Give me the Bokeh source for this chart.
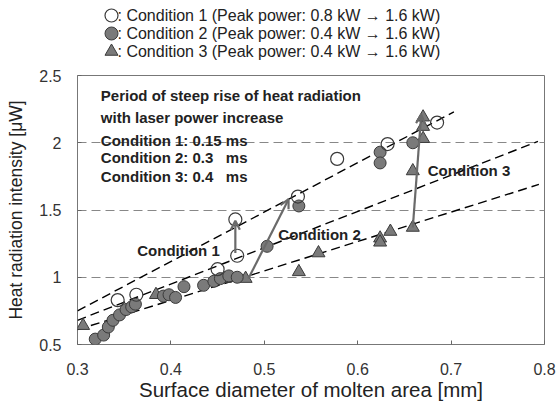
from bokeh.plotting import figure
from bokeh.layouts import column
from bokeh.models import (Range1d, FixedTicker, CustomJSTickFormatter, Arrow, OpenHead)
from bokeh.core.properties import value
from bokeh.embed import file_html
from bokeh.resources import INLINE

# ---------------- data ----------------
c1_x = [0.343, 0.363, 0.450, 0.471, 0.469, 0.536, 0.578, 0.632, 0.685]
c1_y = [0.83, 0.87, 1.06, 1.16, 1.43, 1.60, 1.88, 1.99, 2.15]

c2_x = [0.319, 0.328, 0.333, 0.338, 0.345, 0.352, 0.358, 0.362, 0.392, 0.398, 0.405,
        0.414, 0.435, 0.446, 0.453, 0.462, 0.471, 0.503, 0.537, 0.624, 0.624, 0.659]
c2_y = [0.54, 0.57, 0.63, 0.68, 0.72, 0.76, 0.78, 0.80, 0.86, 0.87, 0.85,
        0.93, 0.94, 0.97, 0.99, 1.01, 1.00, 1.23, 1.53, 1.93, 1.85, 2.00]

c3_x = [0.306, 0.384, 0.458, 0.480, 0.537, 0.558, 0.624, 0.624, 0.635, 0.659, 0.659,
        0.670, 0.670, 0.670]
c3_y = [0.64, 0.87, 0.99, 0.99, 1.04, 1.18, 1.29, 1.26, 1.34, 1.37, 1.79,
        2.03, 2.12, 2.19]

# dashed trend lines (start, end)
fit1_x = [0.300, 0.703]
fit1_y = [0.75, 2.23]
fit2_x = [0.300, 0.793]
fit2_y = [0.68, 2.01]
fit3_x = [0.300, 0.794]
fit3_y = [0.61, 1.69]

# arrows (x0, y0, x1, y1)
arrow1 = (0.469, 1.18, 0.469, 1.42)
arrow2 = (0.483, 0.99, 0.526, 1.58)
arrow3 = (0.659, 1.37, 0.668, 2.21)

cond_labels = ["Condition 1", "Condition 2", "Condition 3"]
cond_label_x = [0.364, 0.515, 0.675]
cond_label_y = [1.20, 1.32, 1.79]

note_lines = ["Period of steep rise of heat radiation",
              "with laser power increase",
              "Condition 1: 0.15 ms",
              "Condition 2: 0.3\u00a0\u00a0\u00a0ms",
              "Condition 3: 0.4\u00a0\u00a0\u00a0ms"]
note_x = [0.325, 0.325, 0.325, 0.325, 0.325]
note_y = [2.35, 2.19, 2.02, 1.89, 1.75]

legend_texts = [": Condition 1 (Peak power: 0.8 kW  \u2192 1.6 kW)",
                ": Condition 2 (Peak power: 0.4 kW  \u2192 1.6 kW)",
                ": Condition 3 (Peak power: 0.4 kW  \u2192 1.6 kW)"]

x_ticks = [0.3, 0.4, 0.5, 0.6, 0.7, 0.8]
y_ticks = [0.5, 1.0, 1.5, 2.0, 2.5]

FONT = "Liberation Sans"
GRAY = "#7a7a7a"
EDGE = "#3a3a3a"

W = 559
TOP_H = 63
FL, FR = 77, 544   # plot frame left/right in page pixels

# ---------------- legend figure ----------------
# column layouts align frames, so the legend frame spans FL..FR too
leg = figure(width=W, height=TOP_H, x_range=Range1d(FL, FR), y_range=Range1d(TOP_H, 0),
             output_backend="svg", toolbar_location=None,
             x_axis_location=None, y_axis_location=None,
             min_border_left=FL, min_border_right=W - FR, min_border_top=0,
             min_border_bottom=0)
leg.grid.visible = False
leg.outline_line_color = None
ly = [15, 33, 51]
lx = 111
leg.scatter([lx], [ly[0]], marker="circle", size=13, fill_color="white",
            line_color=EDGE, line_width=1.2)
leg.scatter([lx], [ly[1]], marker="circle", size=13, fill_color=GRAY,
            line_color=EDGE, line_width=1)
leg.scatter([lx], [ly[2]], marker="triangle", size=13, fill_color=GRAY,
            line_color=EDGE, line_width=1)
leg.text(x=[lx + 6] * 3, y=ly, text=legend_texts, text_font=value(FONT),
         text_font_size="16px", text_color="#222", text_baseline="middle",
         text_align="left")

# ---------------- main figure ----------------
p = figure(width=W, height=403 - TOP_H, x_range=Range1d(0.3, 0.8), y_range=Range1d(0.5, 2.5),
           output_backend="svg", toolbar_location=None,
           min_border_left=FL, min_border_right=W - FR, min_border_top=12,
           min_border_bottom=56)
p.outline_line_color = "#777"
p.outline_line_width = 1
p.background_fill_color = "white"

p.xaxis.ticker = FixedTicker(ticks=x_ticks)
p.yaxis.ticker = FixedTicker(ticks=y_ticks)
p.xaxis.formatter = CustomJSTickFormatter(code="return String(Math.round(tick*10)/10);")
p.yaxis.formatter = CustomJSTickFormatter(code="return String(Math.round(tick*10)/10);")
for ax in (p.xaxis, p.yaxis):
    ax.axis_line_color = None
    ax.major_tick_in = 4
    ax.major_tick_out = 0
    ax.major_tick_line_color = "#666"
    ax.minor_tick_line_color = None
    ax.major_label_text_font = FONT
    ax.major_label_text_font_size = "16px"
    ax.major_label_text_color = "#333"
    ax.axis_label_text_font = FONT
    ax.axis_label_text_font_style = "normal"
    ax.axis_label_text_color = "#222"
p.xaxis.major_label_standoff = 18
p.yaxis.major_label_standoff = 16
p.xaxis.axis_label = "Surface diameter of molten area [mm]"
p.yaxis.axis_label = "Heat radiation intensity [\u03bcW]"
p.xaxis.axis_label_text_font_size = "20.5px"
p.yaxis.axis_label_text_font_size = "17.5px"
p.xaxis.axis_label_standoff = 0
p.yaxis.axis_label_standoff = 10

p.xgrid.visible = False
p.ygrid.grid_line_color = "#888"
p.ygrid.grid_line_dash = "9 5"
p.ygrid.grid_line_width = 1

# trend lines
for fx, fy in ((fit1_x, fit1_y), (fit2_x, fit2_y), (fit3_x, fit3_y)):
    p.line(fx, fy, line_color="black", line_dash="9 5", line_width=1.4)

# arrows
for (x0, y0, x1, y1) in (arrow1, arrow2, arrow3):
    p.add_layout(Arrow(x_start=x0, y_start=y0, x_end=x1, y_end=y1,
                       line_color="#6a6a6a", line_width=2.2,
                       end=OpenHead(size=9, line_color="#6a6a6a", line_width=2.2)))

# points
p.scatter(c3_x, c3_y, marker="triangle", size=13, fill_color=GRAY, line_color=EDGE,
          line_width=1)
p.scatter(c2_x, c2_y, marker="circle", size=12, fill_color=GRAY, line_color=EDGE,
          line_width=1)
p.scatter(c1_x, c1_y, marker="circle", size=13, fill_color="white", fill_alpha=0.0,
          line_color=EDGE, line_width=1.2)

# labels
p.text(x=cond_label_x, y=cond_label_y, text=cond_labels, text_font=value(FONT),
       text_font_style="bold", text_font_size="15px", text_color="#222",
       text_baseline="middle", text_align="left")
p.text(x=note_x, y=note_y, text=note_lines, text_font=value(FONT),
       text_font_style="bold", text_font_size="15px", text_color="#222",
       text_baseline="middle", text_align="left")

layout = column(leg, p, spacing=0)
open("out.html", "w").write(file_html(layout, INLINE))
